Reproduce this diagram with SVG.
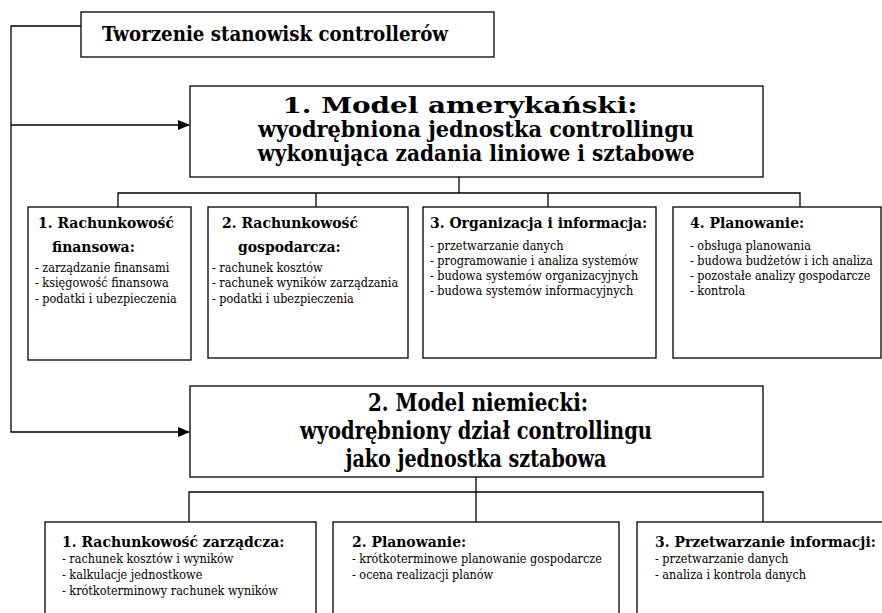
<svg xmlns="http://www.w3.org/2000/svg" width="882" height="613" viewBox="0 0 882 613">
<style>
.box{fill:#fff;stroke:#000;stroke-width:1.3}
.ln{fill:none;stroke:#000;stroke-width:1.3}
text{font-family:"DejaVu Serif Condensed","DejaVu Serif",serif;fill:#000}
.t{font-weight:bold;font-size:20px}
.m{font-weight:bold;font-size:22px;text-anchor:middle}
.n{font-weight:bold;font-size:25px;text-anchor:middle}
.h{font-weight:bold;font-size:15.5px}
.i{font-size:12.5px}
</style>
<defs>
<marker id="ar" markerWidth="12" markerHeight="10" refX="11" refY="5" orient="auto" markerUnits="userSpaceOnUse">
<path d="M0,0 L12,5 L0,10 Z" fill="#000"/>
</marker>
</defs>
<rect width="882" height="613" fill="#fff"/>
<g id="connectors">
<path class="ln" d="M81,26 H11 V432 H189" marker-end="url(#ar)"/>
<path class="ln" d="M11,125 H189" marker-end="url(#ar)"/>
<path class="ln" d="M459,177 V193 M118,207 V193 H800 V207 M316,193 V207 M548,193 V207"/>
<path class="ln" d="M476,477 V522 M189,522 V492 H763 V522"/>
</g>
<g id="title">
<rect class="box" x="81" y="12" width="413" height="45"/>
<text class="t" x="102" y="41" textLength="346" lengthAdjust="spacingAndGlyphs">Tworzenie stanowisk controllerów</text>
</g>
<g id="model1">
<rect class="box" x="190" y="86" width="573" height="91"/>
<text class="m" x="460" y="113" textLength="355" lengthAdjust="spacingAndGlyphs">1.  Model amerykański:</text>
<text class="m" x="476" y="137" textLength="436" lengthAdjust="spacingAndGlyphs">wyodrębniona jednostka controllingu</text>
<text class="m" x="476" y="161" textLength="437" lengthAdjust="spacingAndGlyphs">wykonująca zadania liniowe i sztabowe</text>
</g>
<g id="am1">
<rect class="box" x="28" y="207" width="163" height="153"/>
<text class="h" x="38" y="228">1. Rachunkowość</text>
<text class="h" x="52" y="252">finansowa:</text>
<text class="i" x="35" y="272">- zarządzanie finansami</text>
<text class="i" x="35" y="287">- księgowość finansowa</text>
<text class="i" x="35" y="303">- podatki i ubezpieczenia</text>
</g>
<g id="am2">
<rect class="box" x="208" y="207" width="200" height="151"/>
<text class="h" x="222" y="228">2. Rachunkowość</text>
<text class="h" x="238" y="252">gospodarcza:</text>
<text class="i" x="212" y="272">- rachunek kosztów</text>
<text class="i" x="212" y="287">- rachunek wyników zarządzania</text>
<text class="i" x="212" y="303">- podatki i ubezpieczenia</text>
</g>
<g id="am3">
<rect class="box" x="423" y="207" width="233" height="151"/>
<text class="h" x="430" y="228">3. Organizacja i informacja:</text>
<text class="i" x="430" y="250">- przetwarzanie danych</text>
<text class="i" x="430" y="265">- programowanie i analiza systemów</text>
<text class="i" x="430" y="280">- budowa systemów organizacyjnych</text>
<text class="i" x="430" y="295">- budowa systemów informacyjnych</text>
</g>
<g id="am4">
<rect class="box" x="673" y="207" width="208" height="151"/>
<text class="h" x="690" y="228">4. Planowanie:</text>
<text class="i" x="690" y="250">- obsługa planowania</text>
<text class="i" x="690" y="265">- budowa budżetów i ich analiza</text>
<text class="i" x="690" y="280">- pozostałe analizy gospodarcze</text>
<text class="i" x="690" y="295">- kontrola</text>
</g>
<g id="model2">
<rect class="box" x="190" y="386" width="573" height="91"/>
<text class="n" x="478" y="411" textLength="220" lengthAdjust="spacingAndGlyphs">2.  Model niemiecki:</text>
<text class="n" x="476" y="439" textLength="352" lengthAdjust="spacingAndGlyphs">wyodrębniony dział controllingu</text>
<text class="n" x="476" y="467" textLength="261" lengthAdjust="spacingAndGlyphs">jako jednostka sztabowa</text>
</g>
<g id="de1">
<rect class="box" x="45" y="522" width="271" height="110"/>
<text class="h" x="62" y="547">1. Rachunkowość zarządcza:</text>
<text class="i" x="62" y="563">- rachunek kosztów i wyników</text>
<text class="i" x="62" y="579">- kalkulacje jednostkowe</text>
<text class="i" x="62" y="595">- krótkoterminowy rachunek wyników</text>
</g>
<g id="de2">
<rect class="box" x="333" y="522" width="286" height="110"/>
<text class="h" x="352" y="547">2. Planowanie:</text>
<text class="i" x="352" y="563">- krótkoterminowe planowanie gospodarcze</text>
<text class="i" x="352" y="579">- ocena realizacji planów</text>
</g>
<g id="de3">
<rect class="box" x="637" y="522" width="260" height="110"/>
<text class="h" x="655" y="547">3. Przetwarzanie informacji:</text>
<text class="i" x="655" y="563">- przetwarzanie danych</text>
<text class="i" x="655" y="579">- analiza i kontrola danych</text>
</g>
</svg>
